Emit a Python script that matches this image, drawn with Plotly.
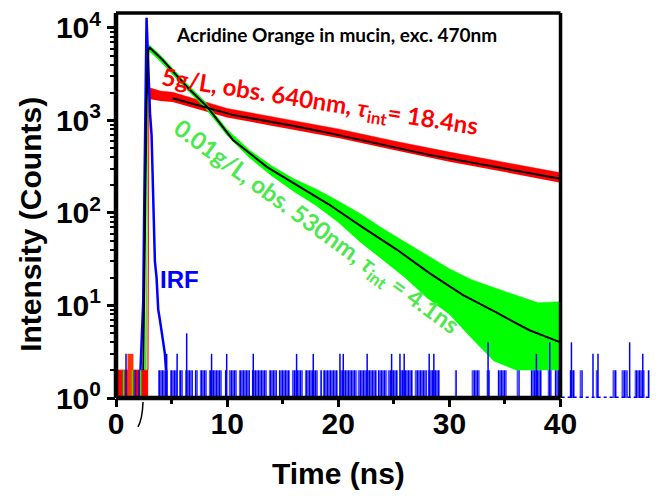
import plotly.graph_objects as go

# ---------------- data (time in ns, intensity in counts) ----------------
# Instrument response function: main peak
irf_t = [2.2, 2.45, 2.55, 2.65, 2.75, 2.85, 2.95, 3.06, 3.2, 3.35, 3.5, 3.65, 3.8, 3.95, 4.1, 4.25, 4.4, 4.5]
irf_counts = [2, 11, 150, 2500, 12900, 6000, 2500, 1200, 700, 110, 30, 20, 9, 7, 5.5, 4, 3, 2]

# IRF background: stretches of 2-count bins (start, end in ns)
irf_bg_from = [3.78, 4.86, 5.67, 6.21, 7.10, 7.55, 8.36, 9.80, 10.16, 11.06, 12.23, 13.76, 14.66,
               15.83, 17.00, 18.35, 18.62, 20.14, 21.76, 23.56, 24.46, 25.54, 26.89, 28.06, 30.49,
               32.01, 33.36, 34.35, 36.06, 37.32, 38.85, 39.48, 40.83, 41.73, 43.17, 44.69, 45.50,
               46.67, 47.84]
irf_bg_to = [4.68, 5.49, 6.03, 6.92, 7.37, 8.18, 9.53, 9.98, 10.88, 12.05, 13.58, 14.48, 15.65,
             16.82, 18.17, 18.53, 19.96, 21.67, 23.47, 24.37, 25.36, 26.71, 27.97, 29.14, 30.67,
             32.73, 33.63, 35.16, 36.33, 38.31, 39.21, 40.11, 41.28, 42.00, 43.35, 45.05, 46.04,
             47.57, 48.02]
# IRF background: isolated higher bins
irf_spike_t = [0.9, 1.75, 2.07, 4.56, 5.5, 6.36, 8.6, 9.96, 12.35, 16.25, 17.75, 20.15, 20.45, 22.6,
               24.8, 25.55, 25.93, 28.18, 28.6, 33.48, 37.83, 39.03, 40.98, 42.92, 43.37, 46.22, 47.4]
irf_spike_c = [3, 2, 2, 3, 3, 5, 3, 3, 3, 3, 3, 3, 3, 3,
               3, 3, 3, 3, 3, 4, 3, 4, 4, 3, 3, 4, 3]
irf_floor_t = [40.1, 48.0]
irf_floor_c = [1, 1]

# 5 g/L, 640 nm emission: pre-pulse background, noisy data band (lower / upper) and fit
red_bg_from = [0.05]
red_bg_to = [2.85]
red_spike_t = [1.1, 1.2, 1.3, 1.4, 1.5]
red_spike_c = [3, 3, 3, 3, 3]
red_t = [2.85, 2.92, 3.0, 3.1, 4.0, 5.1, 10, 15, 20, 25, 30, 35, 40]
red_lo = [2, 2, 1350, 1700, 1620, 1580, 1080, 835, 645, 480, 357, 277, 212]
red_hi = [2, 1500, 2240, 2240, 2080, 2020, 1350, 1045, 810, 600, 455, 352, 272]
red_fit_t = [5.1, 10.5, 16.5, 19.2, 28.2, 37.2, 40.0]
red_fit_y = [1740, 1150, 850, 730, 425, 270, 234]

# 0.01 g/L, 530 nm emission: noisy data band (lower / upper) and fit
green_t = [2.6, 2.75, 2.9, 3.0, 4, 6, 8, 10, 12, 14, 16, 18, 20, 22, 24, 26, 28, 30, 32, 34, 36, 38, 40]
green_lo = [2, 2, 2500, 5560, 4315, 2370, 1365, 684, 394, 251, 170, 120, 79, 48, 31, 20, 12, 8,
            4.4, 2.5, 2, 2, 2]
green_hi = [2, 30, 5800, 6530, 5070, 2790, 1600, 800, 479, 324, 234, 182, 135, 98, 68, 49, 35, 25,
            19, 15.5, 12.9, 10.7, 11]
green_spike_t = [0.68, 1.47, 2.22]
green_spike_c = [2, 2, 2]
green_fit_t = [2.45, 2.6, 2.75, 2.9, 3.05, 4.2, 6.4, 8.2, 10.5, 13.6, 16.5, 19.1, 22.2, 25.3, 28.2,
               31.2, 34.3, 37.2, 40.0]
green_fit_y = [2, 40, 1500, 5800, 6100, 4500, 2300, 1410, 620, 313, 191, 125, 70, 40, 22.4, 13,
               8.3, 5.4, 4.0]

x_ticks = [0, 10, 20, 30, 40]
x_ticktext = ["<b>%d</b>" % v for v in x_ticks]
y_ticks = [1, 10, 100, 1000, 10000]
y_ticktext = ["<b>10<sup>%d</sup></b>" % k for k in range(5)]

RED = "#ff0000"
GREEN = "#00ff00"
BLUE = "#0000ff"
FONT = "Liberation Sans, Arial, sans-serif"
LABEL_FONT = "Lato, Open Sans, sans-serif"


def spikes(ts, cs, base=1):
    xs, ys = [], []
    for t, c in zip(ts, cs):
        xs += [t, t, None]
        ys += [base, c, None]
    return xs, ys


def blocks(starts, ends, lo=1, hi=2):
    xs, ys = [], []
    for a, b in zip(starts, ends):
        xs += [a, a, b, b, None]
        ys += [lo, hi, hi, lo, None]
    return xs, ys


fig = go.Figure()


def band(t, lo, hi, color):
    fig.add_trace(go.Scatter(x=t, y=lo, mode="lines", line=dict(width=0, color=color),
                             showlegend=False, hoverinfo="skip"))
    fig.add_trace(go.Scatter(x=t, y=hi, mode="lines", line=dict(width=0.5, color=color),
                             fill="tonexty", fillcolor=color, showlegend=False, hoverinfo="skip"))


# 640 nm data
bx, by = blocks(red_bg_from, red_bg_to)
fig.add_trace(go.Scatter(x=bx, y=by, mode="lines", line=dict(width=1, color=RED),
                         fill="toself", fillcolor=RED, showlegend=False))
band(red_t, red_lo, red_hi, RED)
sx, sy = spikes(red_spike_t, red_spike_c)
fig.add_trace(go.Scatter(x=sx, y=sy, mode="lines", line=dict(width=1.5, color="#ff3300"),
                         showlegend=False))

# 530 nm data
band(green_t, green_lo, green_hi, GREEN)
sx, sy = spikes(green_spike_t, green_spike_c)
fig.add_trace(go.Scatter(x=sx, y=sy, mode="lines", line=dict(width=1.5, color=GREEN),
                         showlegend=False))

# IRF
bx, by = blocks(irf_bg_from, irf_bg_to)
fig.add_trace(go.Scatter(x=bx, y=by, mode="lines", line=dict(width=0, color=BLUE),
                         fill="toself", fillcolor="rgba(0,0,0,0)",
                         fillpattern=dict(shape="|", size=3, solidity=0.8, fgcolor=BLUE,
                                          bgcolor="rgba(0,0,0,0)", fillmode="replace"),
                         showlegend=False))
sx, sy = spikes(irf_spike_t, irf_spike_c)
fig.add_trace(go.Scatter(x=sx, y=sy, mode="lines", line=dict(width=1.5, color=BLUE),
                         showlegend=False))
fig.add_trace(go.Scatter(x=irf_floor_t, y=irf_floor_c, mode="lines",
                         line=dict(width=3, color=BLUE, dash="dot"), showlegend=False))
fig.add_trace(go.Scatter(x=irf_t, y=irf_counts, mode="lines", line=dict(width=2.5, color=BLUE),
                         showlegend=False))

# fits
fig.add_trace(go.Scatter(x=red_fit_t, y=red_fit_y, mode="lines", line=dict(width=2, color="black"),
                         showlegend=False))
fig.add_trace(go.Scatter(x=green_fit_t, y=green_fit_y, mode="lines",
                         line=dict(width=2, color="black"), showlegend=False))

X_MAX = 48.5
x_end = 40 / X_MAX  # right edge of the frame in paper units

# frame around 0..40 ns
frame = [
    dict(x0=0, x1=0, y0=0, y1=1, w=4.5),
    dict(x0=0, x1=x_end, y0=0, y1=0, w=4.5),
    dict(x0=0, x1=x_end, y0=1, y1=1, w=3.5),
    dict(x0=x_end, x1=x_end, y0=0, y1=1, w=3.5),
]
for f in frame:
    fig.add_shape(type="line", xref="paper", yref="paper", x0=f["x0"], x1=f["x1"],
                  y0=f["y0"], y1=f["y1"], line=dict(color="black", width=f["w"]))

# tail of the fit curve running below the axis
fig.add_shape(type="path", xref="paper", yref="paper",
              path="M 0.0501,-0.0104 Q 0.049,-0.055 0.0408,-0.0753",
              line=dict(color="black", width=1.5))

minor_y = [m * 10 ** k for k in range(4) for m in range(2, 10)]

fig.update_layout(
    width=662, height=496, autosize=False,
    margin=dict(l=116, r=7, t=13, b=98),
    paper_bgcolor="white", plot_bgcolor="white",
    showlegend=False,
    xaxis=dict(range=[0, X_MAX], showgrid=False, zeroline=False, showline=False,
               tickmode="array", tickvals=x_ticks, ticktext=x_ticktext,
               ticks="outside", ticklen=8, tickwidth=3, tickcolor="black",
               ticklabelstandoff=-9,
               tickfont=dict(family=FONT, size=30, color="black"),
               minor=dict(tickmode="array", tickvals=[5, 15, 25, 35], ticks="outside",
                          ticklen=5, tickwidth=3, tickcolor="black")),
    yaxis=dict(type="log", range=[0, 4.162], showgrid=False, zeroline=False, showline=False,
               tickmode="array", tickvals=y_ticks, ticktext=y_ticktext,
               ticks="outside", ticklen=8, tickwidth=3, tickcolor="black",
               tickfont=dict(family=FONT, size=30, color="black"),
               minor=dict(tickmode="array", tickvals=minor_y, ticks="outside",
                          ticklen=5, tickwidth=2, tickcolor="black")),
)

annotations = [
    dict(text="<b>Acridine Orange in mucin, exc. 470nm</b>", x=0.409, y=0.945,
         font=dict(family=LABEL_FONT, size=19, color="black"), textangle=0),
    dict(text="<b>5g/L, obs. 640nm, <i>τ</i><sub>int</sub>= 18.4ns</b>", x=0.378, y=0.768,
         font=dict(family=LABEL_FONT, size=24, color=RED), textangle=9),
    dict(text="<b>0.01g/L, obs. 530nm, <i>τ</i><sub>int</sub> = 4.1ns</b>", x=0.371, y=0.4416,
         font=dict(family=LABEL_FONT, size=24, color="#4de84d"), textangle=36),
    dict(text="<b>IRF</b>", x=0.1187, y=0.3065,
         font=dict(family=FONT, size=24, color=BLUE), textangle=0),
    dict(text="<b>Time (ns)</b>", x=0.412, y=-0.197,
         font=dict(family=FONT, size=30, color="black"), textangle=0),
    dict(text="<b>Intensity (Counts)</b>", x=-0.158, y=0.452,
         font=dict(family=FONT, size=30, color="black"), textangle=-90),
]
for a in annotations:
    fig.add_annotation(xref="paper", yref="paper", showarrow=False,
                       xanchor="center", yanchor="middle", **a)

fig.write_html("out.html")
